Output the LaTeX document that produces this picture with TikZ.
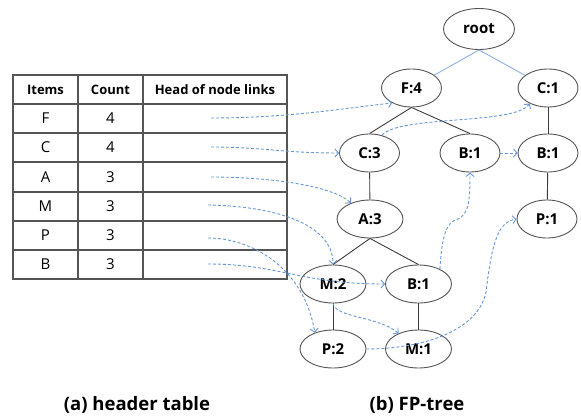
\documentclass[tikz,border=0pt]{standalone}
\usepackage{fontspec}
\setmainfont{Open Sans}
\usetikzlibrary{arrows.meta,shapes.geometric}
\definecolor{linkblue}{RGB}{104,150,214}
\definecolor{rootblue}{RGB}{140,176,224}
\definecolor{gridgray}{RGB}{85,85,85}
\definecolor{edgegray}{RGB}{60,60,60}
\tikzset{
  tn/.style={ellipse,draw=gridgray,line width=0.9pt,fill=white,inner sep=0pt,
    minimum width=60pt,minimum height=38pt,font=\fontsize{15}{18}\selectfont\bfseries},
  tnwide/.style={tn,minimum width=66pt},
  tedge/.style={draw=edgegray,line width=0.9pt},
  rootedge/.style={draw=rootblue,line width=0.9pt},
  nodelink/.style={draw=linkblue,line width=0.9pt,dash pattern=on 3pt off 2pt,
    -{Straight Barb[length=3.5pt,width=8pt]}},
  hdr/.style={font=\fontsize{13}{15}\selectfont\bfseries,inner sep=0pt},
  cell/.style={font=\fontsize{15}{17}\selectfont,inner sep=0pt},
  caption/.style={font=\fontsize{18.5}{22}\selectfont\bfseries,inner sep=0pt}
}
\begin{document}
\begin{tikzpicture}[x=1pt,y=-1pt]
\useasboundingbox (0,0) rectangle (581,417);

% header table grid
\draw[gridgray,line width=1.1pt] (13,75) rectangle (287,279);
\foreach \yy in {104,133,162,192,221,250}
  \draw[gridgray,line width=1.1pt] (13,\yy) -- (287,\yy);
\foreach \xx in {78,143}
  \draw[gridgray,line width=1.1pt] (\xx,75) -- (\xx,279);

% header row
\node[hdr] (hItems) at (45.5,89.5) {Items};
\node[hdr] (hCount) at (110.5,89.5) {Count};
\node[hdr] (hHead) at (215,89.5) {Head of node links};

% item rows
\node[cell] (iF) at (45.5,118.5) {F};  \node[cell] (nF) at (110.5,118.5) {4};
\node[cell] (iC) at (45.5,147.5) {C};  \node[cell] (nC) at (110.5,147.5) {4};
\node[cell] (iA) at (45.5,177)   {A};  \node[cell] (nA) at (110.5,177)   {3};
\node[cell] (iM) at (45.5,206.5) {M};  \node[cell] (nM) at (110.5,206.5) {3};
\node[cell] (iP) at (45.5,235.5) {P};  \node[cell] (nP) at (110.5,235.5) {3};
\node[cell] (iB) at (45.5,264.5) {B};  \node[cell] (nB) at (110.5,264.5) {3};

% start points of the node links
\coordinate (lF) at (211,118);
\coordinate (lC) at (211,147);
\coordinate (lA) at (211,177);
\coordinate (lM) at (208,205);
\coordinate (lP) at (208,238);
\coordinate (lB) at (208,264);

% FP-tree nodes
\node[tn,minimum width=71pt,minimum height=41pt] (root) at (479,29) {root};
\node[tn] (f4)  at (411.5,88) {F:4};
\node[tn] (c1)  at (548,88)   {C:1};
\node[tn] (c3)  at (369.5,153) {C:3};
\node[tn] (b1m) at (470,153)  {B:1};
\node[tn] (b1r) at (548,153)  {B:1};
\node[tn] (p1)  at (547,219)  {P:1};
\node[tnwide] (a3)  at (370,219) {A:3};
\node[tnwide] (m2)  at (333,284) {M:2};
\node[tnwide] (b1l) at (418.5,284) {B:1};
\node[tnwide] (p2)  at (333,349) {P:2};
\node[tnwide] (m1)  at (418.5,349) {M:1};

% tree edges
\draw[rootedge] (root.south) -- (f4);
\draw[rootedge] (root.south) -- (c1);
\draw[tedge] (f4.south) -- (c3.north);
\draw[tedge] (f4.south) -- (b1m.north);
\draw[tedge] (c1) -- (b1r);
\draw[tedge] (b1r) -- (p1);
\draw[tedge] (c3) -- (a3);
\draw[tedge] (a3.south) -- (m2.north);
\draw[tedge] (a3.south) -- (b1l.north);
\draw[tedge] (m2) -- (p2);
\draw[tedge] (b1l) -- (m1);

% node links
\draw[nodelink] (lF) .. controls (290,118) and (345,108) .. (f4.218);
\draw[nodelink] (lC) .. controls (262,147) and (282,153) .. (c3.west);
\draw[nodelink] (lA) .. controls (262,177) and (330,184) .. (a3.140);
\draw[nodelink] (lM) .. controls (270,206) and (333,222) .. (m2.north);
\draw[nodelink] (lP) .. controls (252,238) and (304,268) .. (p2.138);
\draw[nodelink] (lB) .. controls (280,264) and (300,284) .. (b1l.west);
\draw[nodelink] (c3.55) .. controls (400,115) and (515,125) .. (c1.220);
\draw[nodelink] (b1m.east) -- (b1r.west);
\draw[nodelink] (b1l.35) .. controls (442,236) and (446,222) .. (458,219)
  .. controls (469,214) and (470,200) .. (b1m.south);
\draw[nodelink] (m2.south) .. controls (336,318) and (378,316) .. (m1.142);
\draw[nodelink] (p2.east) .. controls (420,349) and (478,332) .. (486,292)
  .. controls (492,242) and (498,222) .. (p1.west);

% captions
\node[caption] (capA) at (137,405) {(a) header table};
\node[caption] (capB) at (417,405) {(b) FP-tree};
\end{tikzpicture}
\end{document}
